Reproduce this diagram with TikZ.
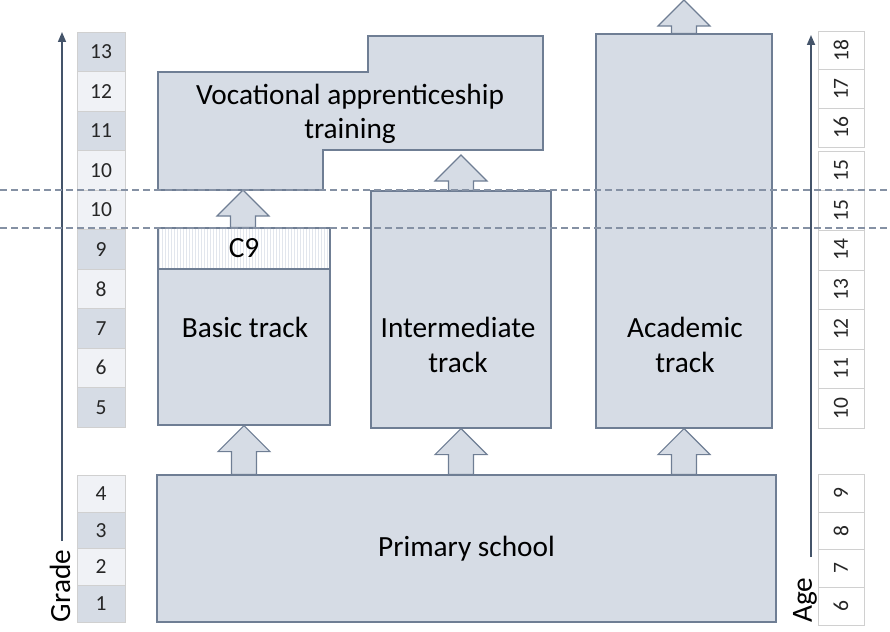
\documentclass[tikz,border=0pt]{standalone}
\usepackage{fontspec}
\setmainfont{Carlito}
\usetikzlibrary{arrows.meta,calc,patterns}
\definecolor{boxfill}{HTML}{D6DCE5}
\definecolor{boxline}{HTML}{6F7E94}
\definecolor{axis}{HTML}{44546A}
\definecolor{cellline}{HTML}{D0D0D0}
\definecolor{celldark}{HTML}{D6DCE5}
\definecolor{celllight}{HTML}{F0F2F6}

% block arrow from #1 (base) up to #2 (tip)
\newcommand\fatarrow[2]{%
  \draw[fatarr] let \p1=(#1), \p2=(#2) in
    (\x1-12.5pt,\y1) -- (\x1-12.5pt,\y2-26pt) -- (\x1-26pt,\y2-26pt) -- (\x1,\y2)
    -- (\x1+26pt,\y2-26pt) -- (\x1+12.5pt,\y2-26pt) -- (\x1+12.5pt,\y1) -- cycle;}

\begin{document}
\begin{tikzpicture}[x=1pt, y=-1pt, font=\fontsize{29.3}{34.5}\selectfont,
    box/.style={draw=boxline, fill=boxfill, line width=1.2pt, inner sep=0pt},
    fatarr/.style={draw=boxline, fill=boxfill, line width=1.2pt},
    cell/.style={draw=cellline, inner sep=0pt, text=black!85, font=\fontsize{21.5}{24}\selectfont},
    level/.style={draw=boxline!85, dash pattern=on 7pt off 4pt, line width=1.3pt},
    axisline/.style={draw=axis, line width=1.6pt, -{Triangle[length=10pt,width=8pt]}}]
  \useasboundingbox (0,0) rectangle (890,631);

  % school tracks
  \node[box, minimum width=619pt, minimum height=147pt] (primary) at (466.5,548.5) {Primary school};
  \node[box, minimum width=172pt, minimum height=197pt] (basic) at (244,326.5) {};
  \node[box, minimum width=180pt, minimum height=237pt] (inter) at (461,309.5) {};
  \node[box, minimum width=176pt, minimum height=394pt] (acad) at (684,231) {};
  \node[draw=boxline, line width=1.2pt, preaction={fill=white}, pattern=vertical lines,
    pattern color=boxfill!70, minimum width=172pt, minimum height=41pt,
    anchor=north] (c9) at (basic.north) {C9};
  \node (basictxt) at (245,327) {Basic track};
  \node[align=center] (intertxt) at (458,345) {Intermediate\\track};
  \node[align=center] (acadtxt) at (685,345) {Academic\\track};

  % vocational training
  \draw[box] (158,72) -- (368,72) -- (368,36) -- (543,36) -- (543,150) -- (323,150)
    -- (323,190) -- (158,190) -- cycle;
  \node[align=center] (voc) at (350,114) {Vocational apprenticeship\\training};
  \coordinate (vocbasic) at (243,190);
  \coordinate (vocinter) at (461,155);
  \coordinate (exit) at (684,0);

  \fatarrow{primary.north -| basic.south}{basic.south}
  \fatarrow{primary.north -| inter.south}{inter.south}
  \fatarrow{primary.north -| acad.south}{acad.south}
  \fatarrow{c9.north -| vocbasic}{vocbasic}
  \fatarrow{inter.north -| vocinter}{vocinter}
  \fatarrow{acad.north}{exit}

  % grades
  \foreach \g/\c [count=\i] in {13/celldark,12/celllight,11/celldark,10/celllight,10/celllight,
      9/celldark,8/celllight,7/celldark,6/celllight,5/celldark}
    \node[cell, fill=\c, minimum width=48pt, minimum height=39.5pt] (g\i) at (101,{32+39.5*(\i-0.5)}) {\g};
  \foreach \g/\c [count=\i] in {4/celllight,3/celldark,2/celllight,1/celldark}
    \node[cell, fill=\c, minimum width=48pt, minimum height=36.75pt] (gp\i) at (101,{475+36.75*(\i-0.5)}) {\g};
  \coordinate (gradefoot) at (62,541);
  \coordinate (gradetop) at (62,32);
  \draw[axisline] (gradefoot) -- (gradetop);
  \node[rotate=90] (grade) at (60,586) {Grade};

  % ages
  \foreach \a [count=\i] in {18,17,16}
    \node[cell, fill=white, minimum width=46pt, minimum height=38.67pt] (a\i) at (841,{31+38.67*(\i-0.5)}) {\rotatebox{90}{\a}};
  \foreach \a [count=\i] in {15,15,14,13,12,11,10}
    \node[cell, fill=white, minimum width=46pt, minimum height=39.57pt] (b\i) at (841,{151+39.57*(\i-0.5)}) {\rotatebox{90}{\a}};
  \foreach \a [count=\i] in {9,8,7,6}
    \node[cell, fill=white, minimum width=46pt, minimum height=37.75pt] (c\i) at (841,{474+37.75*(\i-0.5)}) {\rotatebox{90}{\a}};
  \coordinate (agefoot) at (811,557);
  \coordinate (agetop) at (811,35);
  \draw[axisline] (agefoot) -- (agetop);
  \node[rotate=90] (age) at (805,600) {Age};

  % level lines
  \draw[level] (0,190) -- (890,190);
  \draw[level] (0,228) -- (890,228);
\end{tikzpicture}
\end{document}
